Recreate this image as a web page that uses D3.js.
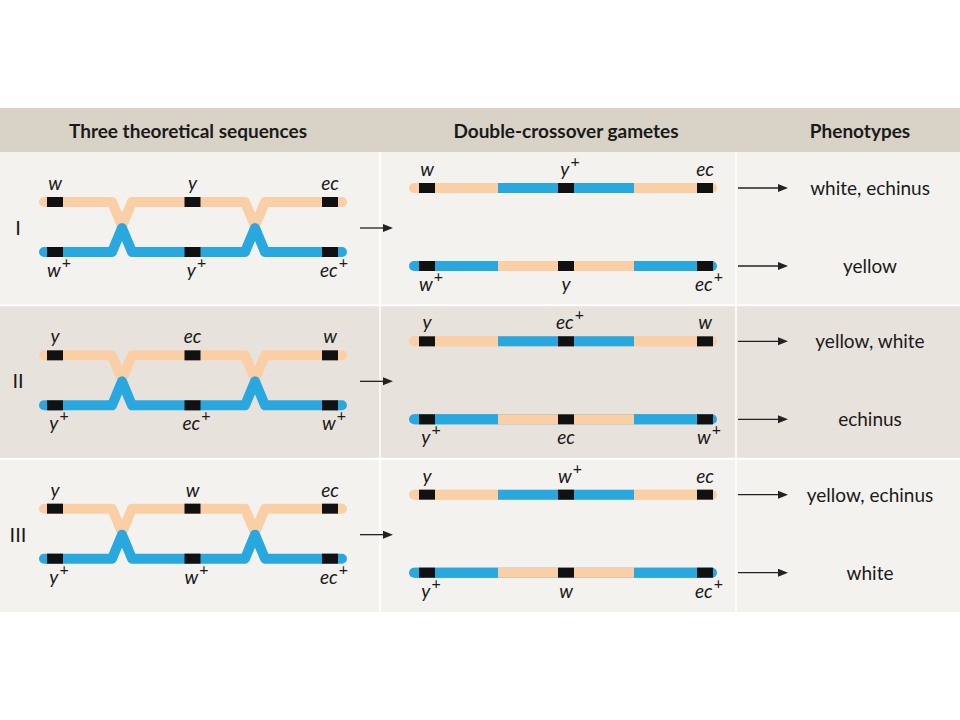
<!DOCTYPE html>
<html><head><meta charset="utf-8">
<script src="https://cdn.jsdelivr.net/npm/d3@7"></script>
<style>body{margin:0;background:#fff}</style>
</head><body><div id="chart"></div>
<script>
var headers = ["Three theoretical sequences", "Double-crossover gametes", "Phenotypes"];
var rowNames = ["I", "II", "III"];
// parental genes per row (top strand / bottom strand)
var parentTop = [["w","y","ec"], ["y","ec","w"], ["y","w","ec"]];
var parentBot = [["w+","y+","ec+"], ["y+","ec+","w+"], ["y+","w+","ec+"]];
// double crossover gametes
var gameteTop = [["w","y+","ec"], ["y","ec+","w"], ["y","w+","ec"]];
var gameteBot = [["w+","y","ec+"], ["y+","ec","w+"], ["y+","w","ec+"]];
var phenoTop = ["white, echinus", "yellow, white", "yellow, echinus"];
var phenoBot = ["yellow", "echinus", "white"];

var orange = "#fbcfa6", blue = "#29a8e0";
var font = "Lato, Open Sans, sans-serif";
var svg = d3.select("#chart").append("svg").attr("width", 960).attr("height", 720);

// header band
svg.append("rect").attr("x", 0).attr("y", 108).attr("width", 960).attr("height", 44).attr("fill", "#d8d3c6");
var hx = [188, 566, 860];
svg.selectAll(".hd").data(headers).enter().append("text")
  .attr("x", (d, i) => hx[i]).attr("y", 138).attr("text-anchor", "middle")
  .attr("font-family", font).attr("font-size", 19).attr("font-weight", 700)
  .attr("fill", "#1a1a1a").text(d => d);

var rowY = d3.scaleBand().domain(rowNames).range([152, 612]);
var rowBg = ["#f4f2ef", "#e8e2dc", "#f4f2ef"];
svg.selectAll(".bg").data(rowNames).enter().append("rect")
  .attr("x", 0).attr("y", d => rowY(d)).attr("width", 960).attr("height", rowY.bandwidth())
  .attr("fill", (d, i) => rowBg[i]);
[380, 736].forEach(x => svg.append("line").attr("x1", x).attr("x2", x).attr("y1", 152).attr("y2", 612)
  .attr("stroke", "#fff").attr("stroke-width", 1.5));
rowNames.forEach((r, i) => { if (i) svg.append("line").attr("x1", 0).attr("x2", 960)
  .attr("y1", rowY(r)).attr("y2", rowY(r)).attr("stroke", "#fff").attr("stroke-width", 2); });

// locus positions
var xl = d3.scalePoint().domain([0, 1, 2]).range([55, 330]);
var xr = d3.scalePoint().domain([0, 1, 2]).range([427, 705]);
var cross = [122, 255], swap = [498, 634];

function label(g, x, y, txt) {
  var plus = txt.indexOf("+") >= 0;
  var t = g.append("text").attr("x", x + (plus ? 4 : 0)).attr("y", y).attr("text-anchor", "middle")
    .attr("font-family", font).attr("font-size", 19).attr("font-style", "italic").attr("fill", "#1a1a1a");
  t.append("tspan").text(txt.replace("+", ""));
  if (plus) t.append("tspan").attr("dx", 1).attr("dy", -9).attr("font-size", 16).attr("font-style", "normal").text("+");
}
function marker(g, x, y) {
  g.append("rect").attr("x", x - 8).attr("y", y - 5).attr("width", 16).attr("height", 10).attr("fill", "#111");
}
function arrow(g, x1, x2, y) {
  g.append("line").attr("x1", x1).attr("x2", x2 - 6).attr("y1", y).attr("y2", y).attr("stroke", "#222").attr("stroke-width", 1.3);
  g.append("path").attr("d", d3.line()([[x2 - 10, y - 4], [x2, y], [x2 - 10, y + 4]])).attr("fill", "#222");
}

rowNames.forEach(function (r, i) {
  var y0 = rowY(r);
  var g = svg.append("g");
  var top = y0 + 50, bot = y0 + 100, mid = y0 + 76;
  g.append("text").attr("x", 18).attr("y", mid + 7).attr("text-anchor", "middle")
    .attr("font-family", font).attr("font-size", 20).attr("fill", "#1a1a1a").text(r);
  var line = d3.line();
  var tp = [[44, top]], bp = [[44, bot]];
  cross.forEach(c => { tp.push([c - 10, top], [c, top + 24], [c + 10, top]);
                       bp.push([c - 10, bot], [c, bot - 24], [c + 10, bot]); });
  tp.push([342, top]); bp.push([342, bot]);
  g.append("path").attr("d", line(tp)).attr("fill", "none").attr("stroke", orange)
    .attr("stroke-width", 10).attr("stroke-linecap", "round").attr("stroke-linejoin", "round");
  g.append("path").attr("d", line(bp)).attr("fill", "none").attr("stroke", blue)
    .attr("stroke-width", 10).attr("stroke-linecap", "round").attr("stroke-linejoin", "round");
  [0, 1, 2].forEach(k => {
    marker(g, xl(k), top); marker(g, xl(k), bot);
    label(g, xl(k), top - 12, parentTop[i][k]);
    label(g, xl(k), bot + 25, parentBot[i][k]);
  });
  arrow(g, 360, 393, mid);

  var gt = y0 + 36, gb = y0 + 114;
  [[gt, orange, blue], [gb, blue, orange]].forEach(function (s) {
    var yy = s[0], segs = [[414, swap[0], s[1]], [swap[0], swap[1], s[2]], [swap[1], 712, s[1]]];
    g.append("line").attr("x1", 414).attr("x2", 712).attr("y1", yy).attr("y2", yy)
      .attr("stroke", s[1]).attr("stroke-width", 10).attr("stroke-linecap", "round");
    segs.forEach(q => g.append("line").attr("x1", q[0]).attr("x2", q[1]).attr("y1", yy).attr("y2", yy)
      .attr("stroke", q[2]).attr("stroke-width", 10));
    [0, 1, 2].forEach(k => marker(g, xr(k), yy));
    arrow(g, 738, 788, yy);
  });
  [0, 1, 2].forEach(k => {
    label(g, xr(k), gt - 12, gameteTop[i][k]);
    label(g, xr(k), gb + 25, gameteBot[i][k]);
  });
  [[gt, phenoTop[i]], [gb, phenoBot[i]]].forEach(p => g.append("text").attr("x", 870).attr("y", p[0] + 7)
    .attr("text-anchor", "middle").attr("font-family", font).attr("font-size", 19)
    .attr("fill", "#1a1a1a").text(p[1]));
});
</script></body></html>
